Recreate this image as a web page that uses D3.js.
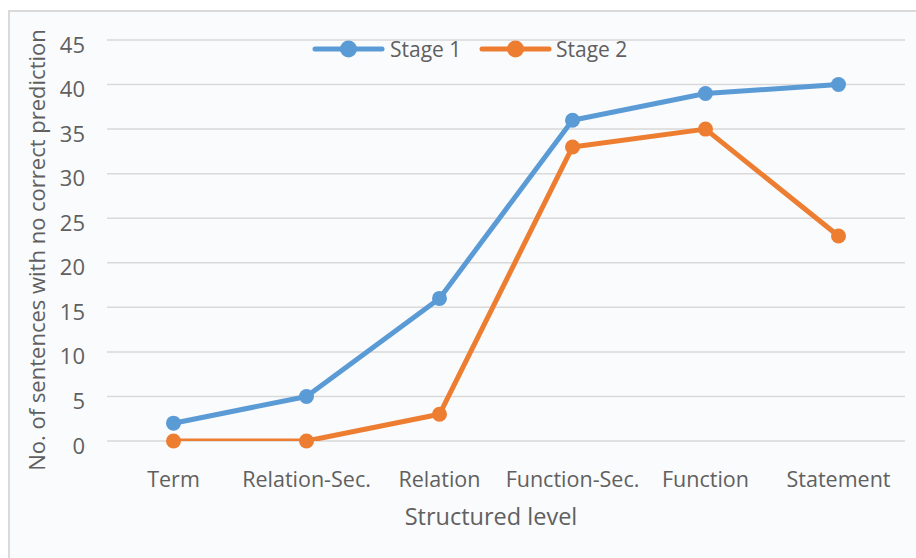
<!DOCTYPE html>
<html>
<head>
<meta charset="utf-8">
<script src="https://cdn.jsdelivr.net/npm/d3@7"></script>
<style>
  html, body { margin: 0; padding: 0; background: #ffffff; }
  svg { display: block; font-family: "Open Sans", "Noto Sans", sans-serif; }
</style>
</head>
<body>
<svg id="chart" width="916" height="558"></svg>
<script>
// Structured levels along the x axis
const categories = ["Term", "Relation-Sec.", "Relation", "Function-Sec.", "Function", "Statement"];
// Number of sentences with no correct prediction, per stage
const stage1 = [2, 5, 16, 36, 39, 40];
const stage2 = [0, 0, 3, 33, 35, 23];
const seriesNames = ["Stage 1", "Stage 2"];
const seriesColors = ["#5b9bd5", "#ed7d31"];
const yTicks = [0, 5, 10, 15, 20, 25, 30, 35, 40, 45];

const series = [
  { name: seriesNames[0], values: stage1, color: seriesColors[0] },
  { name: seriesNames[1], values: stage2, color: seriesColors[1] }
];

const W = 916, H = 558;
const plot = { left: 107, right: 905, top: 40, bottom: 441 };
const textColor = "#606060";

const svg = d3.select("#chart");

// chart area with light border
svg.append("rect")
  .attr("x", 9).attr("y", 11)
  .attr("width", W + 20).attr("height", H + 20)
  .attr("fill", "#fafbfd")
  .attr("stroke", "#dadada")
  .attr("stroke-width", 2);

const x = d3.scaleBand().domain(categories).range([plot.left, plot.right]);
const y = d3.scaleLinear().domain([0, 45]).range([plot.bottom, plot.top]);

// horizontal gridlines
svg.append("g")
  .selectAll("line")
  .data(yTicks)
  .join("line")
  .attr("x1", plot.left).attr("x2", plot.right)
  .attr("y1", d => y(d)).attr("y2", d => y(d))
  .attr("stroke", "#d9d9d9")
  .attr("stroke-width", 1.5);

// y axis labels (baseline sits a little below each gridline)
const yAxis = d3.axisLeft(y).tickValues(yTicks).tickSize(0).tickPadding(0);
const gy = svg.append("g").attr("transform", `translate(85,0)`).call(yAxis);
gy.select(".domain").remove();
gy.selectAll("text")
  .attr("fill", textColor)
  .attr("dy", null)
  .attr("y", 12)
  .style("font-size", "22px")
  .style("font-family", "'Open Sans', sans-serif");

// x axis labels
const xAxis = d3.axisBottom(x).tickSize(0).tickPadding(0);
const gx = svg.append("g").attr("transform", `translate(0,487)`).call(xAxis);
gx.select(".domain").remove();
gx.selectAll("text")
  .attr("fill", textColor)
  .attr("y", 0)
  .attr("dy", null)
  .style("font-size", "21.5px")
  .style("font-family", "'Open Sans', sans-serif");

// axis titles
svg.append("text")
  .attr("transform", `translate(45,250) rotate(-90)`)
  .attr("text-anchor", "middle")
  .attr("fill", textColor)
  .style("font-size", "22px")
  .text("No. of sentences with no correct prediction");

svg.append("text")
  .attr("x", 491).attr("y", 525)
  .attr("text-anchor", "middle")
  .attr("fill", textColor)
  .style("font-size", "23.5px")
  .text("Structured level");

// lines are clipped to the plot area
svg.append("clipPath").attr("id", "plotClip")
  .append("rect")
  .attr("x", plot.left - 20).attr("y", 0)
  .attr("width", plot.right - plot.left + 40)
  .attr("height", plot.bottom);

const cx = i => x(categories[i]) + x.bandwidth() / 2;
const line = d3.line().x((d, i) => cx(i)).y(d => y(d));

const gLines = svg.append("g").attr("clip-path", "url(#plotClip)");
gLines.selectAll("path")
  .data(series)
  .join("path")
  .attr("d", d => line(d.values))
  .attr("fill", "none")
  .attr("stroke", d => d.color)
  .attr("stroke-width", 5)
  .attr("stroke-linejoin", "round")
  .attr("stroke-linecap", "round");

// markers
series.forEach(s => {
  svg.append("g")
    .selectAll("circle")
    .data(s.values)
    .join("circle")
    .attr("cx", (d, i) => cx(i))
    .attr("cy", d => y(d))
    .attr("r", 7.5)
    .attr("fill", s.color);
});

// legend
const legendItems = [
  { x0: 315, tx: 390 },
  { x0: 482, tx: 556 }
];
const ly = 49;
series.forEach((s, i) => {
  const g = svg.append("g");
  const lx = legendItems[i].x0;
  g.append("line")
    .attr("x1", lx).attr("x2", lx + 67)
    .attr("y1", ly).attr("y2", ly)
    .attr("stroke", s.color).attr("stroke-width", 5)
    .attr("stroke-linecap", "round");
  g.append("circle")
    .attr("cx", lx + 33.5).attr("cy", ly).attr("r", 8.5)
    .attr("fill", s.color);
  g.append("text")
    .attr("x", legendItems[i].tx).attr("y", 56.5)
    .attr("fill", textColor)
    .style("font-size", "21px")
    .text(s.name);
});
</script>
</body>
</html>
